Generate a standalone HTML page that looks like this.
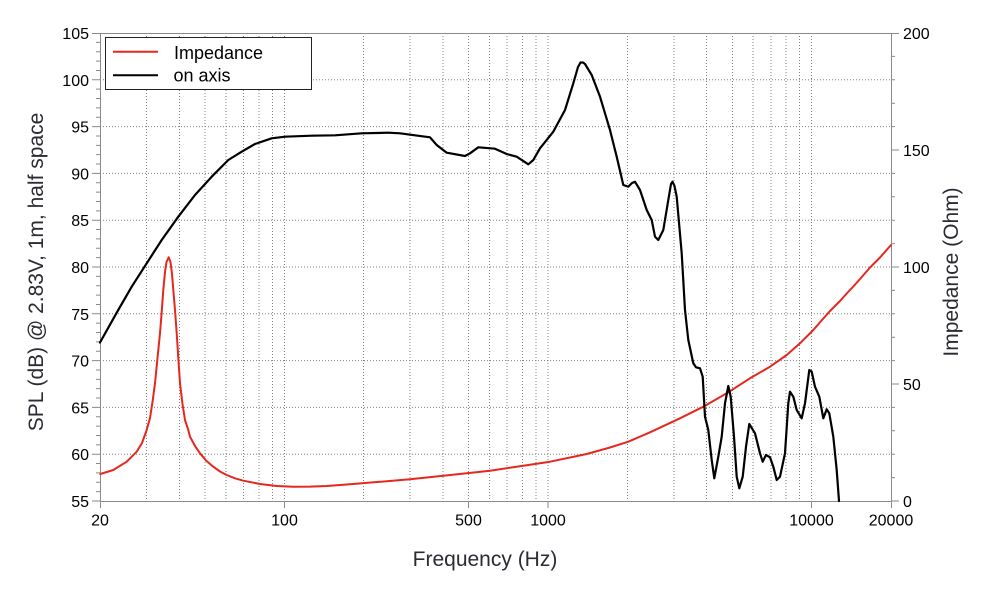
<!DOCTYPE html>
<html>
<head>
<meta charset="utf-8">
<style>
  html,body{margin:0;padding:0;background:#fff;}
  svg{display:block;}
  .tick{font-family:"Liberation Sans",Arial,sans-serif;font-size:16px;fill:#000;}
  .title{font-family:"Liberation Sans",Arial,sans-serif;font-size:21px;fill:#2b2b33;}
  .leg{font-family:"Liberation Sans",Arial,sans-serif;font-size:18px;fill:#000;}
</style>
</head>
<body>
<svg width="995" height="596" viewBox="0 0 995 596" xmlns="http://www.w3.org/2000/svg">
  <rect x="0" y="0" width="995" height="596" fill="#fff"/>

  <!-- vertical gridlines -->
  <g stroke="#808080" stroke-width="1" stroke-dasharray="1,2" fill="none">
    <path d="M146.5 33V501 M179.5 33V501 M205 33V501 M226 33V501 M243.5 33V501 M259 33V501 M272.5 33V501 M284.5 33V501
             M363.5 33V501 M410 33V501 M443 33V501 M468.5 33V501 M489.5 33V501 M507 33V501 M522.5 33V501 M536 33V501 M548 33V501
             M627.5 33V501 M674 33V501 M706.5 33V501 M732.5 33V501 M753 33V501 M771 33V501 M786 33V501 M799.5 33V501 M811.5 33V501"/>
    <!-- horizontal gridlines -->
    <path d="M100 454.2H891 M100 407.4H891 M100 360.6H891 M100 313.8H891 M100 267H891 M100 220.2H891 M100 173.4H891 M100 126.6H891 M100 79.8H891"/>
  </g>

  <!-- axes frame -->
  <g stroke="#8a8a8a" stroke-width="1" fill="none">
    <path d="M100.5 33V501.5H891.5V33 M100 33.5H891"/>
    <!-- left ticks: minor -->
    <path d="M96 491.64h4 M96 482.28h4 M96 472.92h4 M96 463.56h4 M96 444.84h4 M96 435.48h4 M96 426.12h4 M96 416.76h4
             M96 398.04h4 M96 388.68h4 M96 379.32h4 M96 369.96h4 M96 351.24h4 M96 341.88h4 M96 332.52h4 M96 323.16h4
             M96 304.44h4 M96 295.08h4 M96 285.72h4 M96 276.36h4 M96 257.64h4 M96 248.28h4 M96 238.92h4 M96 229.56h4
             M96 210.84h4 M96 201.48h4 M96 192.12h4 M96 182.76h4 M96 164.04h4 M96 154.68h4 M96 145.32h4 M96 135.96h4
             M96 117.24h4 M96 107.88h4 M96 98.52h4 M96 89.16h4 M96 70.44h4 M96 61.08h4 M96 51.72h4 M96 42.36h4"/>
    <!-- left ticks: major -->
    <path d="M92 501h8 M92 454.2h8 M92 407.4h8 M92 360.6h8 M92 313.8h8 M92 267h8 M92 220.2h8 M92 173.4h8 M92 126.6h8 M92 79.8h8 M92 33.5h8"/>
    <!-- right ticks: minor -->
    <path d="M891 477.6h4 M891 454.2h4 M891 430.8h4 M891 407.4h4 M891 360.6h4 M891 337.2h4 M891 313.8h4 M891 290.4h4
             M891 243.6h4 M891 220.2h4 M891 196.8h4 M891 173.4h4 M891 126.6h4 M891 103.2h4 M891 79.8h4 M891 56.4h4"/>
    <!-- right ticks: major -->
    <path d="M891 501h8 M891 384h8 M891 267h8 M891 150h8 M891 33.5h8"/>
    <!-- bottom ticks -->
    <path d="M100.5 501v7 M284.5 501v7 M468.5 501v7 M548 501v7 M811.5 501v7 M891.5 501v7"/>
  </g>

  <!-- impedance curve -->
  <polyline fill="none" stroke="#e5281e" stroke-width="2" stroke-linejoin="round" stroke-linecap="round"
    points="100.3,474 113.3,470 126.7,461.7 136.7,451.7 142,443 146.7,430 150,418 152.5,402 155,383.3 157.5,358 160,333.3 162,308 163.3,290 165,272 166.5,262 168.7,257.3 170.5,262 172,274 173.3,290 175,310 176.7,333.3 178.3,358 180,383.3 182.5,404 185,420 188.3,430 190,436.7 195,446 200,453.3 206,460.5 213.3,466.7 220,471.5 226.7,475 235,478.3 243.3,480.7 260,484 276.7,486 293.3,486.7 310,486.6 326.7,486 350,484.3 380,481.8 410,479.3 443.3,475.7 490,470.7 523.3,465.7 550,461.7 586.7,454 610,447.5 628.3,441.7 650,432.3 680,418.3 703.3,406.7 726.7,393.3 750,378.3 770,366.7 786.7,355 800,343.3 813.3,330 822,320 830,311 840,301 846.7,293.5 853.3,286.5 860,279 870,267.5 880,257.5 891,245"/>

  <!-- on-axis SPL curve -->
  <polyline fill="none" stroke="#000" stroke-width="2.2" stroke-linejoin="round" stroke-linecap="round"
    points="100,342.5 116.7,312.7 131.7,286.7 146.7,263.3 161.7,240 178.3,216.7 195,195 211.7,176.7 228.3,160 241.7,151.7 255,144 271.7,138.3 285,136.7 311.7,135.7 335,135.3 361.7,133.3 388.3,132.7 400,133.3 430,137.3 436.7,145 446.7,152.7 465,156 470,153.3 478.3,147.3 495,148.7 506.7,154 516.7,156.7 528.3,164.3 533.3,160 540,148.3 553.3,131.7 565,110 573.3,83.3 578,67 580.5,62.5 583,62.5 585,64 591.7,75 600,96.7 610,130 616.7,156.7 623.3,185 628.3,186.7 632,183 635,181.7 640,190 646.7,210 651.7,220 655,236.7 658.3,240 663.3,230 668.3,200 671,184 672.5,181.7 674.5,186 676.7,196.7 681.7,253.3 685,310 688.3,340 693.3,363.3 696,367.3 700,368.3 702.7,376.7 705,416.7 708.3,430 711.7,460 714.3,478.3 718.3,456.7 721.7,436.7 725,403.3 728.3,386 730.7,396.7 734,436.7 736.7,476.7 739.3,488.3 742.7,476.7 746,446.7 749.3,424 755,433.3 760,453.3 762.7,461.7 766,455 770,457.3 773.3,466.7 776.7,480 780,476.7 785,453.3 788.3,403.3 790,391.7 793.3,396.7 796.7,410 801.7,418.3 805,403.3 809.3,370 811.7,371.7 815,386.7 819.3,396.7 823.3,418.3 826.7,409.3 829.3,413.3 833.3,436.7 836.7,470 839,501"/>

  <!-- legend -->
  <rect x="105.5" y="37.5" width="206" height="52" fill="#fff" stroke="#222" stroke-width="1"/>
  <line x1="113" y1="51.7" x2="158" y2="51.7" stroke="#e5281e" stroke-width="2"/>
  <line x1="113" y1="75.3" x2="158" y2="75.3" stroke="#000" stroke-width="2"/>
  <text class="leg" x="174" y="59">Impedance</text>
  <text class="leg" x="173.5" y="81.5">on axis</text>

  <!-- left tick labels -->
  <g class="tick" text-anchor="end">
    <text x="89" y="39">105</text>
    <text x="89" y="86">100</text>
    <text x="89" y="132.6">95</text>
    <text x="89" y="179.4">90</text>
    <text x="89" y="226.2">85</text>
    <text x="89" y="273">80</text>
    <text x="89" y="319.8">75</text>
    <text x="89" y="366.6">70</text>
    <text x="89" y="413.4">65</text>
    <text x="89" y="460.2">60</text>
    <text x="89" y="507">55</text>
  </g>

  <!-- right tick labels -->
  <g class="tick" text-anchor="start">
    <text x="903" y="39">200</text>
    <text x="903" y="156">150</text>
    <text x="903" y="273">100</text>
    <text x="903" y="390">50</text>
    <text x="903" y="507">0</text>
  </g>

  <!-- bottom tick labels -->
  <g class="tick" text-anchor="middle">
    <text x="100" y="525.5">20</text>
    <text x="284.5" y="525.5">100</text>
    <text x="468.5" y="525.5">500</text>
    <text x="548" y="525.5">1000</text>
    <text x="811.5" y="525.5">10000</text>
    <text x="891" y="525.5">20000</text>
  </g>

  <!-- axis titles -->
  <text class="title" x="485" y="566" text-anchor="middle">Frequency (Hz)</text>
  <text class="title" text-anchor="middle" transform="translate(43,272) rotate(-90)">SPL (dB) @ 2.83V, 1m, half space</text>
  <text class="title" text-anchor="middle" transform="translate(958,272) rotate(-90)">Impedance (Ohm)</text>
</svg>
</body>
</html>
